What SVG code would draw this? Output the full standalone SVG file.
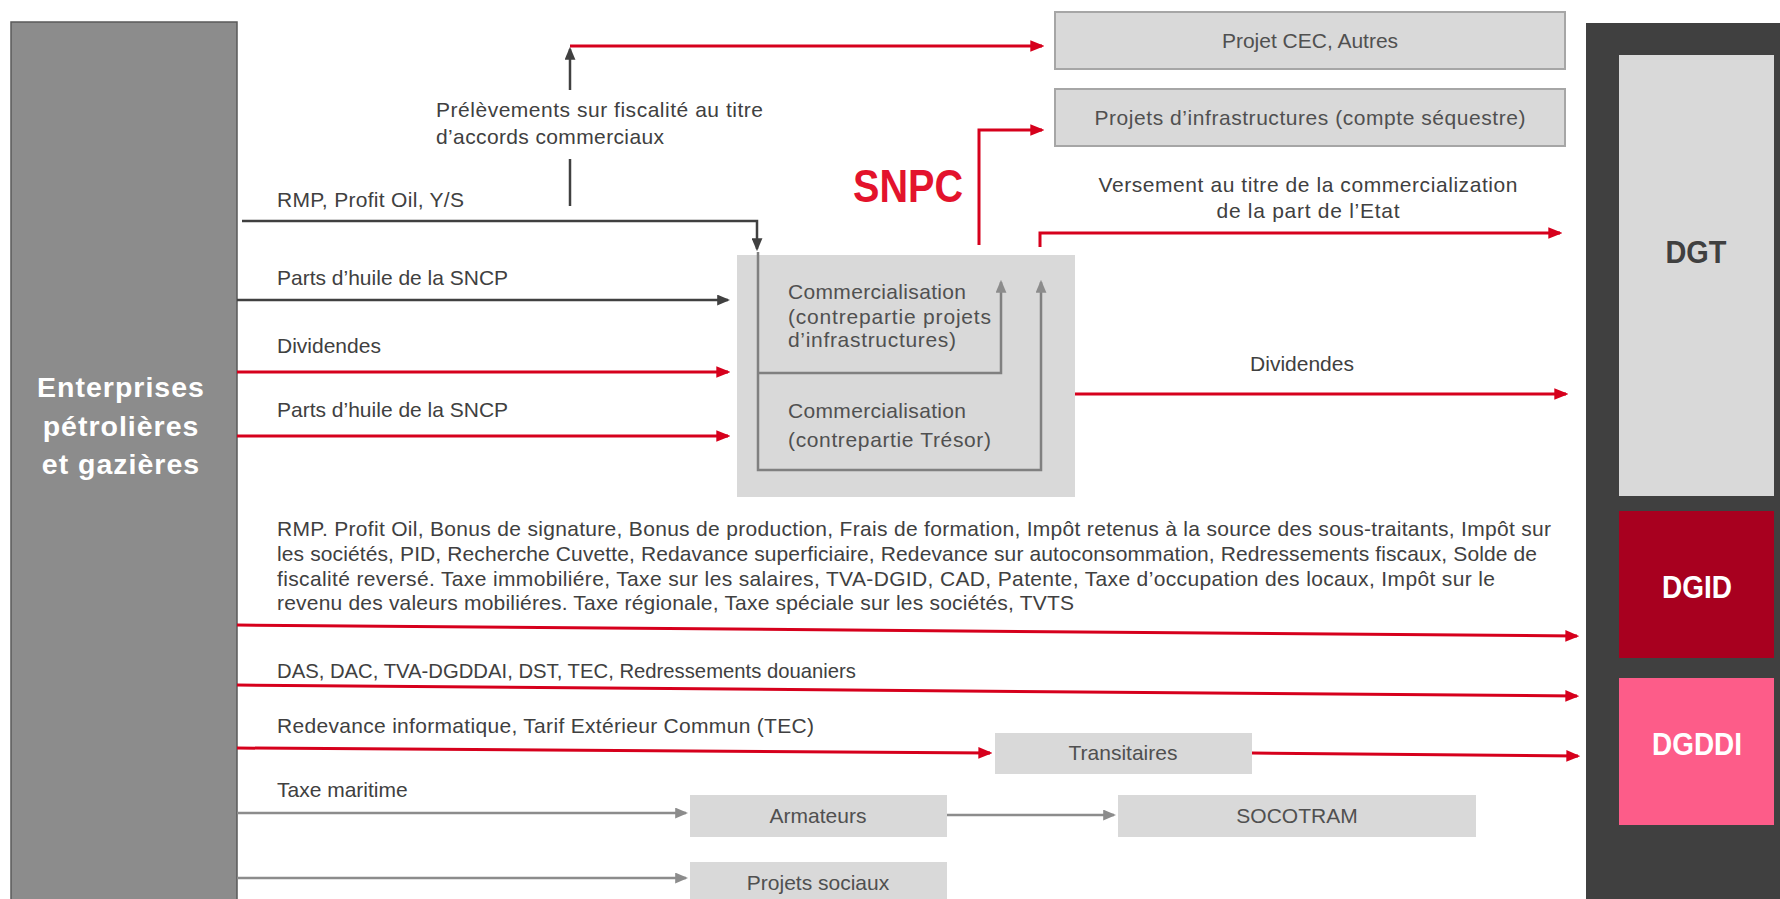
<svg xmlns="http://www.w3.org/2000/svg" width="1780" height="899" viewBox="0 0 1780 899">
<style>
.lbl{font-family:"Liberation Sans",Arial,sans-serif;font-size:21px;fill:#404040}
.bx{font-family:"Liberation Sans",Arial,sans-serif;font-size:21px;fill:#505050}
.mid{text-anchor:middle}
.big{font-family:"Liberation Sans",Arial,sans-serif;font-weight:bold;text-anchor:middle}
.red{fill:none;stroke:#d6001c;stroke-width:3}
.dark{fill:none;stroke:#404040;stroke-width:2.5}
.gray{fill:none;stroke:#8c8c8c;stroke-width:2.5}
.inner{fill:none;stroke:#808080;stroke-width:2.5}
.pbox{fill:#d9d9d9;stroke:#a6a6a6;stroke-width:2}
.sbox{fill:#d9d9d9}
</style>
<defs>
<marker id="ar" viewBox="0 0 12 10" refX="10" refY="5" markerWidth="14" markerHeight="12" markerUnits="userSpaceOnUse" orient="auto"><path d="M0,0 L12,5 L0,10 z" fill="#d6001c"/></marker>
<marker id="ad" viewBox="0 0 12 10" refX="10" refY="5" markerWidth="13" markerHeight="11" markerUnits="userSpaceOnUse" orient="auto"><path d="M0,0 L12,5 L0,10 z" fill="#404040"/></marker>
<marker id="ag" viewBox="0 0 12 10" refX="10" refY="5" markerWidth="13" markerHeight="11" markerUnits="userSpaceOnUse" orient="auto"><path d="M0,0 L12,5 L0,10 z" fill="#8c8c8c"/></marker>
</defs>
<rect width="1780" height="899" fill="#ffffff"/>

<g id="entreprises">
<rect x="11" y="22" width="226" height="890" fill="#8c8c8c" stroke="#5a5a5a" stroke-width="1.5"/>
<text class="big" x="121" y="397" font-size="28.5" fill="#ffffff" letter-spacing="1">Enterprises</text>
<text class="big" x="121" y="436" font-size="28.5" fill="#ffffff" letter-spacing="1">pétrolières</text>
<text class="big" x="121" y="474" font-size="28.5" fill="#ffffff" letter-spacing="1">et gazières</text>
</g>

<g id="administrations">
<rect x="1586" y="23" width="194" height="880" fill="#404040"/>
</g>
<g id="dgt">
<rect x="1619" y="55" width="155" height="441" fill="#d9d9d9"/>
<text class="big" x="1696" y="263" font-size="31" fill="#404040" textLength="61" lengthAdjust="spacingAndGlyphs">DGT</text>
</g>
<g id="dgid">
<rect x="1619" y="511" width="155" height="147" fill="#a8001f"/>
<text class="big" x="1697" y="598" font-size="31" fill="#ffffff" textLength="70" lengthAdjust="spacingAndGlyphs">DGID</text>
</g>
<g id="dgddi">
<rect x="1619" y="678" width="155" height="147" fill="#fd5c89"/>
<text class="big" x="1697" y="755" font-size="31" fill="#ffffff" textLength="90" lengthAdjust="spacingAndGlyphs">DGDDI</text>
</g>

<g id="projet-cec">
<rect class="pbox" x="1055" y="12" width="510" height="57"/>
<text class="bx mid" x="1310" y="48">Projet CEC, Autres</text>
</g>
<g id="projets-infra">
<rect class="pbox" x="1055" y="89" width="510" height="57"/>
<text class="bx mid" x="1310" y="125" textLength="431">Projets d’infrastructures (compte séquestre)</text>
</g>

<g id="snpc">
<text x="908" y="202" font-family="'Liberation Sans',Arial,sans-serif" font-weight="bold" font-size="47" fill="#e3132c" text-anchor="middle" textLength="110" lengthAdjust="spacingAndGlyphs">SNPC</text>
<rect class="sbox" x="737" y="255" width="338" height="242"/>
<text class="bx" x="788" y="299" textLength="178">Commercialisation</text>
<text class="bx" x="788" y="324" textLength="203">(contrepartie projets</text>
<text class="bx" x="788" y="347" textLength="168">d’infrastructures)</text>
<text class="bx" x="788" y="418" textLength="178">Commercialisation</text>
<text class="bx" x="788" y="447" textLength="203">(contrepartie Trésor)</text>
</g>

<g id="transitaires">
<rect class="sbox" x="995" y="733" width="257" height="41"/>
<text class="bx mid" x="1123" y="760">Transitaires</text>
</g>
<g id="armateurs">
<rect class="sbox" x="690" y="795" width="257" height="42"/>
<text class="bx mid" x="818" y="823">Armateurs</text>
</g>
<g id="socotram">
<rect class="sbox" x="1118" y="795" width="358" height="42"/>
<text class="bx mid" x="1297" y="823">SOCOTRAM</text>
</g>
<g id="projets-sociaux">
<rect class="sbox" x="690" y="862" width="257" height="45"/>
<text class="bx mid" x="818" y="890">Projets sociaux</text>
</g>

<g id="connectors">
<path class="inner" d="M758,252 V470 H1041 V282" marker-end="url(#ag)"/>
<path class="inner" d="M758,373 H1001 V282" marker-end="url(#ag)"/>
<path class="dark" d="M570,206 V159"/>
<path class="dark" d="M570,90 V49" marker-end="url(#ad)"/>
<path class="red" d="M570,46 H1042" marker-end="url(#ar)"/>
<path class="dark" d="M242,221 H757 V249" marker-end="url(#ad)"/>
<path class="dark" d="M237,300 H728" marker-end="url(#ad)"/>
<path class="red" d="M237,372 H728" marker-end="url(#ar)"/>
<path class="red" d="M237,436 H728" marker-end="url(#ar)"/>
<path class="red" d="M979,245 V130 H1042" marker-end="url(#ar)"/>
<path class="red" d="M1040,247 V233 H1560" marker-end="url(#ar)"/>
<path class="red" d="M1075,394 H1566" marker-end="url(#ar)"/>
<path class="red" d="M237,625 L1577,636" marker-end="url(#ar)"/>
<path class="red" d="M237,685 L1577,696" marker-end="url(#ar)"/>
<path class="red" d="M237,748 L990,753" marker-end="url(#ar)"/>
<path class="red" d="M1252,753 L1578,756" marker-end="url(#ar)"/>
<path class="gray" d="M237,813 H686" marker-end="url(#ag)"/>
<path class="gray" d="M947,815 H1114" marker-end="url(#ag)"/>
<path class="gray" d="M237,878 H686" marker-end="url(#ag)"/>
</g>

<g id="labels">
<text class="lbl" x="436" y="117" textLength="327">Prélèvements sur fiscalité au titre</text>
<text class="lbl" x="436" y="144" textLength="228">d’accords commerciaux</text>
<text class="lbl" x="277" y="207" textLength="187">RMP, Profit Oil, Y/S</text>
<text class="lbl" x="277" y="285">Parts d’huile de la SNCP</text>
<text class="lbl" x="277" y="353">Dividendes</text>
<text class="lbl" x="277" y="417">Parts d’huile de la SNCP</text>
<text class="lbl mid" x="1308" y="192" textLength="419">Versement au titre de la commercialization</text>
<text class="lbl mid" x="1308" y="218" textLength="183">de la part de l’Etat</text>
<text class="lbl mid" x="1302" y="371">Dividendes</text>
<text class="lbl" x="277" y="536" textLength="1274">RMP. Profit Oil, Bonus de signature, Bonus de production, Frais de formation, Impôt retenus à la source des sous-traitants, Impôt sur</text>
<text class="lbl" x="277" y="561" textLength="1260">les sociétés, PID, Recherche Cuvette, Redavance superficiaire, Redevance sur autoconsommation, Redressements fiscaux, Solde de</text>
<text class="lbl" x="277" y="586" textLength="1218">fiscalité reversé. Taxe immobiliére, Taxe sur les salaires, TVA-DGID, CAD, Patente, Taxe d’occupation des locaux, Impôt sur le</text>
<text class="lbl" x="277" y="610" textLength="797">revenu des valeurs mobiliéres. Taxe régionale, Taxe spéciale sur les sociétés, TVTS</text>
<text class="lbl" x="277" y="678" textLength="579" lengthAdjust="spacingAndGlyphs">DAS, DAC, TVA-DGDDAI, DST, TEC, Redressements douaniers</text>
<text class="lbl" x="277" y="733" textLength="537">Redevance informatique, Tarif Extérieur Commun (TEC)</text>
<text class="lbl" x="277" y="797">Taxe maritime</text>
</g>
</svg>
